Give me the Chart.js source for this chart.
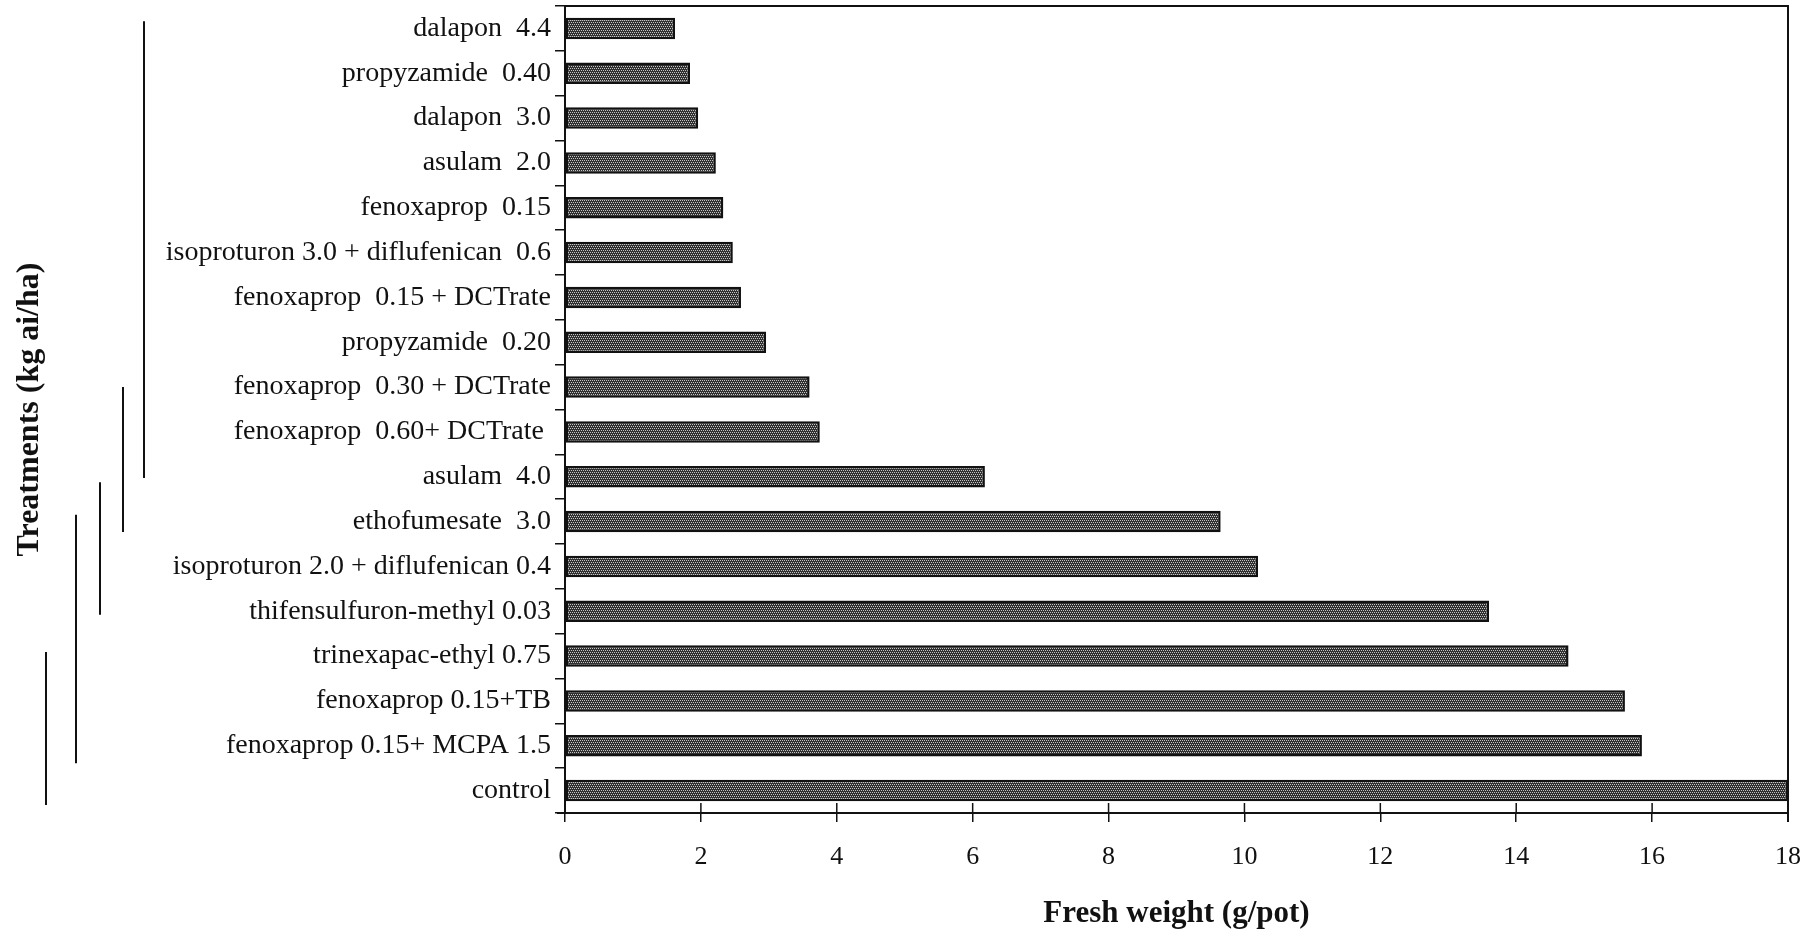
<!DOCTYPE html>
<html>
<head>
<meta charset="utf-8">
<script src="https://cdn.jsdelivr.net/npm/chart.js@4"></script>
<style>
  html, body { margin: 0; padding: 0; background: #fff; }
  canvas { display: block; }
</style>
</head>
<body>
<canvas id="chartTreat" width="1817" height="934"></canvas>
<script>
// ─── Datos ───────────────────────────────────────────────────────────────────
const treatments = [
  'dalapon  4.4',
  'propyzamide  0.40',
  'dalapon  3.0',
  'asulam  2.0',
  'fenoxaprop  0.15',
  'isoproturon 3.0 + diflufenican  0.6',
  'fenoxaprop  0.15 + DCTrate',
  'propyzamide  0.20',
  'fenoxaprop  0.30 + DCTrate',
  'fenoxaprop  0.60+ DCTrate ',
  'asulam  4.0',
  'ethofumesate  3.0',
  'isoproturon 2.0 + diflufenican 0.4',
  'thifensulfuron-methyl 0.03',
  'trinexapac-ethyl 0.75',
  'fenoxaprop 0.15+TB',
  'fenoxaprop 0.15+ MCPA 1.5',
  'control',
];
const freshWeight = [
  1.62, 1.84, 1.96, 2.22, 2.33, 2.47, 2.59, 2.96, 3.60, 3.75,
  6.18, 9.65, 10.2, 13.6, 14.77, 15.6, 15.85, 18.0,
];
const xTicks = [0, 2, 4, 6, 8, 10, 12, 14, 16, 18];

// grupos sin diferencia significativa (en índices de categoría)
const groupFrom = [-0.16, 8.0, 10.12, 10.85, 13.91];
const groupTo   = [10.03, 11.23, 13.08, 16.39, 17.32];

const INK = '#111';
const SERIF = '"Liberation Serif", "Times New Roman", serif';

// ─── Trama punteada de las barras ────────────────────────────────────────────
function dotPattern(ctx) {
  const c = document.createElement('canvas');
  c.width = 4; c.height = 4;
  const g = c.getContext('2d');
  g.fillStyle = '#303030'; g.fillRect(0, 0, 4, 4);
  g.fillStyle = '#c4c4c4';
  g.fillRect(0, 0, 1, 1); g.fillRect(2, 0, 1, 1);
  g.fillRect(1, 2, 1, 1); g.fillRect(3, 2, 1, 1);
  return ctx.createPattern(c, 'repeat');
}

// ─── Marco, marcas que cruzan el eje y líneas de agrupación ─────────────────
const framePlugin = {
  id: 'frame',
  afterDraw(chart) {
    const { ctx, chartArea: a, scales: { x, y } } = chart;
    ctx.save();
    ctx.strokeStyle = INK;
    ctx.lineWidth = 2;
    ctx.beginPath();
    ctx.moveTo(a.left, a.top); ctx.lineTo(a.right, a.top); ctx.lineTo(a.right, a.bottom + 9);
    ctx.moveTo(a.left - 8, a.bottom); ctx.lineTo(a.left, a.bottom);
    ctx.stroke();
    ctx.lineWidth = 1.5;
    ctx.beginPath();
    xTicks.forEach(v => {
      const px = x.getPixelForValue(v);
      ctx.moveTo(px, a.bottom - 10); ctx.lineTo(px, a.bottom);
    });
    ctx.stroke();
    ctx.lineWidth = 2;
    const xs = [144, 123, 100, 76, 46];
    groupFrom.forEach((f, i) => {
      ctx.beginPath();
      ctx.moveTo(xs[i], y.getPixelForValue(f));
      ctx.lineTo(xs[i], y.getPixelForValue(groupTo[i]));
      ctx.stroke();
    });
    ctx.restore();
  },
};

const ctx = document.getElementById('chartTreat').getContext('2d');
new Chart(ctx, {
  type: 'bar',
  data: {
    labels: treatments,
    datasets: [{
      data: freshWeight,
      backgroundColor: dotPattern(ctx),
      borderColor: INK,
      borderWidth: 2.5,
      borderSkipped: false,
      categoryPercentage: 1,
      barPercentage: 0.48,
    }],
  },
  options: {
    indexAxis: 'y',
    responsive: false, devicePixelRatio: 1, animation: false,
    layout: { padding: { top: 6, right: 29, left: 0, bottom: 0 } },
    plugins: { legend: { display: false }, tooltip: { enabled: false } },
    scales: {
      x: {
        min: 0, max: 18,
        afterBuildTicks: s => { s.ticks = xTicks.map(v => ({ value: v })); },
        afterFit: s => { s.height = 121; s.paddingLeft = 0; s.paddingRight = 0; },
        ticks: { color: INK, font: { family: SERIF, size: 26 }, padding: 20 },
        grid: { drawOnChartArea: false, tickLength: 9, color: INK, lineWidth: 1.5 },
        border: { color: INK, width: 2 },
        title: {
          display: true, text: 'Fresh weight (g/pot)', color: INK,
          font: { family: SERIF, size: 31, weight: 'bold' }, padding: { top: 0, bottom: 1 },
        },
      },
      y: {
        afterFit: s => { s.width = 565; s.paddingTop = 0; s.paddingBottom = 0; },
        ticks: { color: INK, font: { family: SERIF, size: 28 }, padding: 4, autoSkip: false },
        grid: { offset: true, drawOnChartArea: false, tickLength: 10, color: INK, lineWidth: 1.5 },
        border: { color: INK, width: 2 },
        title: {
          display: true, text: 'Treatments (kg ai/ha)', color: INK,
          font: { family: SERIF, size: 32, weight: 'bold' }, padding: { top: 11, bottom: 0 },
        },
      },
    },
  },
  plugins: [framePlugin],
});
</script>
</body>
</html>
